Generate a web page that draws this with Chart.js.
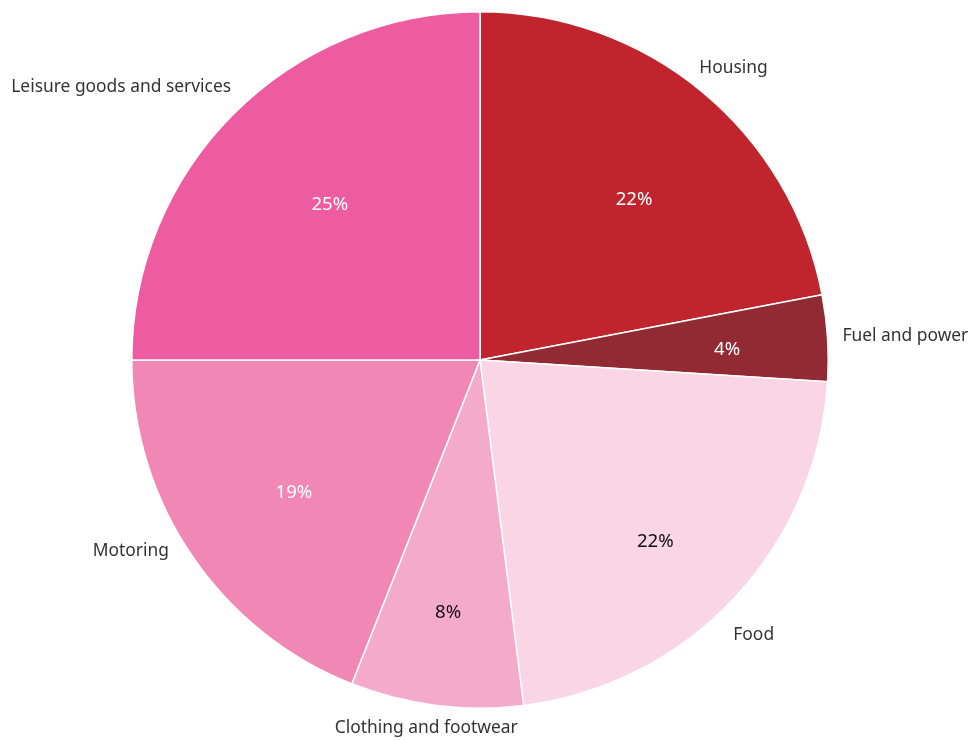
<!DOCTYPE html>
<html>
<head>
<meta charset="utf-8">
<script src="https://cdn.jsdelivr.net/npm/chart.js@4"></script>
<style>
  html, body { margin: 0; padding: 0; background: #fff; }
  #wrap { width: 974px; height: 740px; position: relative; }
</style>
</head>
<body>
<div id="wrap"><canvas id="spend"></canvas></div>
<script>
  // household spending shares, clockwise from 12 o'clock
  var categories = ["Housing", "Fuel and power", "Food", "Clothing and footwear", "Motoring", "Leisure goods and services"];
  var shares = [22, 4, 22, 8, 19, 25];
  var sliceColors = ["#C0252D", "#922A33", "#F9D5E5", "#F4ABCB", "#F087B4", "#ED5BA1"];
  var valueColors = ["#ffffff", "#ffffff", "#111111", "#111111", "#ffffff", "#ffffff"];

  // label placement, relative to each slice's mid angle (degrees) and radius
  var innerNudge = [[4.3, 0.638], [1.3, 0.710], [2.9, 0.726], [0, 0.730], [-1.4, 0.657], [0.9, 0.620]];
  var outerNudge = [[-2.7, 17], [-0.2, 15], [4.2, 26], [1.1, 24], [2.6, 17], [2.6, 21]];

  var NAME_FONT = '17.4px "Noto Sans", "Open Sans", sans-serif';
  var VALUE_FONT = '18.6px "Noto Sans", "Open Sans", sans-serif';

  function polar(p, angle, r) {
    return { x: p.x + Math.cos(angle) * r, y: p.y + Math.sin(angle) * r };
  }

  // draws the percent inside each slice and the category name outside it
  var sliceLabels = {
    id: "sliceLabels",
    afterDatasetsDraw: function (chart) {
      var ctx = chart.ctx;
      var arcs = chart.getDatasetMeta(0).data;
      ctx.save();
      ctx.textBaseline = "middle";
      arcs.forEach(function (arc, i) {
        var p = arc.getProps(["x", "y", "startAngle", "endAngle", "outerRadius"], true);
        var mid = (p.startAngle + p.endAngle) / 2;

        var a = polar(p, mid + innerNudge[i][0] * Math.PI / 180, p.outerRadius * innerNudge[i][1]);
        ctx.font = VALUE_FONT;
        ctx.fillStyle = valueColors[i];
        ctx.textAlign = "center";
        ctx.fillText(shares[i] + "%", a.x, a.y);

        var ang = mid + outerNudge[i][0] * Math.PI / 180;
        var b = polar(p, ang, p.outerRadius + outerNudge[i][1]);
        var cos = Math.cos(ang);
        ctx.font = NAME_FONT;
        ctx.fillStyle = "#333333";
        ctx.textAlign = Math.abs(cos) < 0.3 ? "center" : (cos > 0 ? "left" : "right");
        ctx.fillText(categories[i], b.x, b.y);
      });
      ctx.restore();
    }
  };

  new Chart(document.getElementById("spend"), {
    type: "pie",
    data: {
      labels: categories,
      datasets: [{
        data: shares,
        backgroundColor: sliceColors,
        borderColor: "#ffffff",
        borderWidth: 1.5
      }]
    },
    options: {
      responsive: true,
      maintainAspectRatio: false,
      animation: false,
      layout: { padding: { left: 131, right: 145, top: 11, bottom: 31 } },
      plugins: {
        legend: { display: false },
        tooltip: { enabled: false }
      }
    },
    plugins: [sliceLabels]
  });
</script>
</body>
</html>
